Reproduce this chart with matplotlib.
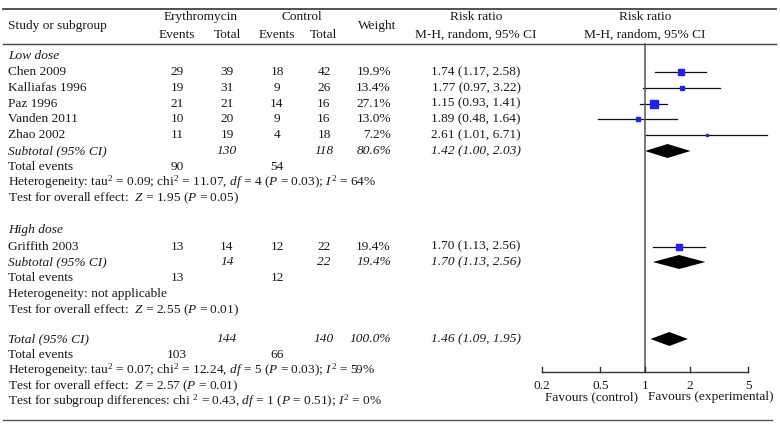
import matplotlib.pyplot as plt
import numpy as np

plt.rcParams['font.family'] = ['Liberation Serif', 'DejaVu Serif']
plt.rcParams['mathtext.fontset'] = 'custom'
plt.rcParams['mathtext.rm'] = 'Liberation Serif'
plt.rcParams['mathtext.it'] = 'Liberation Serif:italic'

# ---- data ----
low_studies = ['Chen 2009', 'Kalliafas 1996', 'Paz 1996', 'Vanden 2011', 'Zhao 2002']
low_ev_e = [29, 19, 21, 10, 11]
low_tot_e = [39, 31, 21, 20, 19]
low_ev_c = [18, 9, 14, 9, 4]
low_tot_c = [42, 26, 16, 16, 18]
low_weight = [19.9, 13.4, 27.1, 13.0, 7.2]
low_rr_text = ['1.74 (1.17, 2.58)', '1.77 (0.97, 3.22)', '1.15 (0.93, 1.41)',
               '1.89 (0.48, 1.64)', '2.61 (1.01, 6.71)']
low_rr = [1.74, 1.77, 1.15, 0.89, 2.61]   # position drawn in the plot
low_lo = [1.17, 0.97, 0.93, 0.48, 1.01]
low_hi = [2.58, 3.22, 1.41, 1.64, 6.71]

high_studies = ['Griffith 2003']
high_ev_e = [13]
high_tot_e = [14]
high_ev_c = [12]
high_tot_c = [22]
high_weight = [19.4]
high_rr = [1.70]
high_lo = [1.13]
high_hi = [2.56]

# pooled: (total_e, total_c, weight, rr, lo, hi, events_e, events_c)
pooled_low = (130, 118, 80.6, 1.42, 1.00, 2.03, 90, 54)
pooled_high = (14, 22, 19.4, 1.70, 1.13, 2.56, 13, 12)
pooled_all = (144, 140, 100.0, 1.46, 1.09, 1.95, 103, 66)

ticks = [0.2, 0.5, 1, 2, 5]

# ---- layout (pixels) ----
W, H = 780, 430
X_ONE = 645
PX_DEC = 148.0
cx = {'ev_e': 177, 'tot_e': 227, 'ev_c': 277, 'tot_c': 324, 'w': 391, 'rr': 476}
FS = 9.6
TC = '#1a1a1a'

fig = plt.figure(figsize=(W / 100, H / 100), dpi=100)
ax = fig.add_axes([0, 0, 1, 1])
ax.set_xlim(0, W)
ax.set_ylim(H, 0)
ax.axis('off')

x0, x1 = 530, 775
fx = fig.add_axes([x0 / W, 0, (x1 - x0) / W, 1])
fx.set_xscale('log')
fx.set_xlim(10 ** ((x0 - X_ONE) / PX_DEC), 10 ** ((x1 - X_ONE) / PX_DEC))
fx.set_ylim(H, 0)
fx.axis('off')


def txt(x, y, s, ha='left', style='normal'):
    ax.text(x, y, s, ha=ha, va='center', fontsize=FS, color=TC, style=style)


# header
ax.plot([3, 776], [9, 9], color='#444444', lw=1.3)
ax.plot([3, 776], [44, 44], color='#444444', lw=1.0)
ax.plot([3, 772], [420, 420], color='#555555', lw=1.0)
txt(8, 26.5, 'Study or subgroup')
txt(201, 17, 'Erythromycin', ha='center')
txt(302, 17, 'Control', ha='center')
for k, s in [('ev_e', 'Events'), ('tot_e', 'Total'), ('ev_c', 'Events'), ('tot_c', 'Total')]:
    txt(cx[k], 35, s, ha='center')
txt(377, 26.5, 'Weight', ha='center')
txt(cx['rr'], 17, 'Risk ratio', ha='center')
txt(cx['rr'], 35, 'M-H, random, 95% CI', ha='center')
txt(X_ONE, 17, 'Risk ratio', ha='center')
txt(X_ONE, 35, 'M-H, random, 95% CI', ha='center')


def study_row(y, name, e1, t1, e2, t2, w, rrs, rr, lo, hi):
    txt(8, y, name)
    txt(cx['ev_e'], y, str(e1), ha='center')
    txt(cx['tot_e'], y, str(t1), ha='center')
    txt(cx['ev_c'], y, str(e2), ha='center')
    txt(cx['tot_c'], y, str(t2), ha='center')
    txt(cx['w'], y, '%.1f%%' % w, ha='right')
    txt(cx['rr'], y, rrs, ha='center')
    fx.plot([lo, hi], [y, y], color='#111111', lw=0.9, clip_on=False)
    side = (0.25 * w + 0.3) * 0.72
    fx.plot([rr], [y], marker='s', ms=side, color='#1f1fff', mec='#1f1fff', clip_on=False)


def pooled_row(y, label, p):
    t1, t2, w, rr, lo, hi, _, _ = p
    txt(8, y, label, style='italic')
    txt(cx['tot_e'], y, str(t1), ha='center', style='italic')
    txt(cx['tot_c'], y, str(t2), ha='center', style='italic')
    txt(cx['w'], y, '%.1f%%' % w, ha='right', style='italic')
    txt(cx['rr'], y, '%.2f (%.2f, %.2f)' % (rr, lo, hi), ha='center', style='italic')
    h = 7.0
    fx.fill([lo, rr, hi, rr], [y, y - h, y, y + h], color='black', lw=0, clip_on=False)


def events_row(y, p):
    txt(8, y, 'Total events')
    txt(cx['ev_e'], y, str(p[6]), ha='center')
    txt(cx['ev_c'], y, str(p[7]), ha='center')


# low dose
txt(8, 56, 'Low dose', style='italic')
y = 72
for i in range(len(low_studies)):
    study_row(y, low_studies[i], low_ev_e[i], low_tot_e[i], low_ev_c[i], low_tot_c[i],
              low_weight[i], low_rr_text[i], low_rr[i], low_lo[i], low_hi[i])
    y += 15.8
pooled_row(151, 'Subtotal (95% CI)', pooled_low)
events_row(167, pooled_low)
txt(8, 182.5, r'Heterogeneity: tau$^2$ = 0.09; chi$^2$ = 11.07, $df$ = 4 ($P$ = 0.03); $I^2$ = 64%')
txt(8, 198, r'Test for overall effect:  $Z$ = 1.95 ($P$ = 0.05)')

# high dose
txt(8, 230.5, 'High dose', style='italic')
for i in range(len(high_studies)):
    study_row(246.5, high_studies[i], high_ev_e[i], high_tot_e[i], high_ev_c[i], high_tot_c[i],
              high_weight[i], '%.2f (%.2f, %.2f)' % (high_rr[i], high_lo[i], high_hi[i]),
              high_rr[i], high_lo[i], high_hi[i])
pooled_row(262, 'Subtotal (95% CI)', pooled_high)
events_row(278, pooled_high)
txt(8, 294, 'Heterogeneity: not applicable')
txt(8, 310, r'Test for overall effect:  $Z$ = 2.55 ($P$ = 0.01)')

# total
pooled_row(339, 'Total (95% CI)', pooled_all)
events_row(355, pooled_all)
txt(8, 370.5, r'Heterogeneity: tau$^2$ = 0.07; chi$^2$ = 12.24, $df$ = 5 ($P$ = 0.03); $I^2$ = 59%')
txt(8, 386, r'Test for overall effect:  $Z$ = 2.57 ($P$ = 0.01)')
txt(8, 401.5, r'Test for subgroup differences: chi $^2$ = 0.43, $df$ = 1 ($P$ = 0.51); $I^2$ = 0%')

# forest axis
fx.plot([1, 1], [44, 372], color='#555555', lw=1.1, clip_on=False)
fx.plot([ticks[0], ticks[-1]], [372, 372], color='#333333', lw=1.0, clip_on=False)
for t in ticks:
    fx.plot([t, t], [367, 372], color='#333333', lw=1.0, clip_on=False)
    fx.text(t, 386, '%g' % t, ha='center', va='center', fontsize=FS, color=TC)
txt(638, 397, 'Favours (control)', ha='right')
txt(648, 397, 'Favours (experimental)', ha='left')

fig.savefig('out.png', dpi=100)
